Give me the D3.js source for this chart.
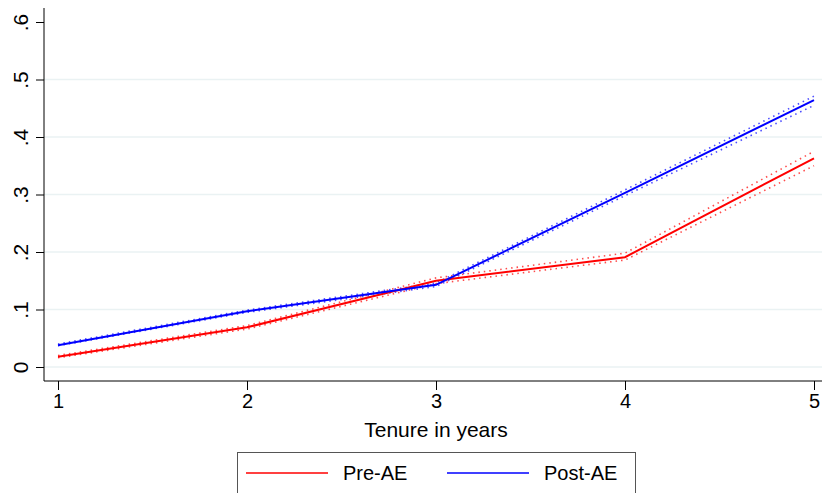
<!DOCTYPE html>
<html>
<head>
<meta charset="utf-8">
<script src="https://cdn.jsdelivr.net/npm/d3@7"></script>
<style>
    body { margin: 0; background: #fff; }
    text { font-family: "Liberation Sans", Arial, sans-serif; fill: #000; }
</style>
</head>
<body>
<div id="chart"></div>
<script>
// tenure values and estimates
const tenure = [1, 2, 3, 4, 5];
const yTicks = [0, 0.1, 0.2, 0.3, 0.4, 0.5, 0.6];
const yTickLabels = ["0", ".1", ".2", ".3", ".4", ".5", ".6"];

const preAE = [0.018, 0.069, 0.150, 0.191, 0.363];
const preLow = [0.016, 0.066, 0.145, 0.186, 0.350];
const preHigh = [0.020, 0.072, 0.155, 0.198, 0.375];

const postAE = [0.038, 0.097, 0.143, 0.303, 0.464];
const postLow = [0.037, 0.095, 0.140, 0.298, 0.455];
const postHigh = [0.040, 0.099, 0.146, 0.308, 0.471];

const seriesNames = ["Pre-AE", "Post-AE"];
const seriesColors = ["#ff0000", "#0000ff"];

const width = 822, height = 493;

const svg = d3.select("#chart")
    .append("svg")
    .attr("width", width)
    .attr("height", height);

const x = d3.scaleLinear().domain([1, 5]).range([58, 814]);
const y = d3.scaleLinear().domain([0, 0.6]).range([367, 22]);

const plotLeft = 44, plotRight = 822, plotTop = 8, plotBottom = 381;

// gridlines
svg.append("g")
    .selectAll("line")
    .data(yTicks.filter(d => d < 0.6))
    .enter().append("line")
    .attr("x1", plotLeft)
    .attr("x2", plotRight)
    .attr("y1", d => y(d))
    .attr("y2", d => y(d))
    .attr("stroke", "#eaf2f3")
    .attr("stroke-width", 1.3);

// y axis
const yAxis = svg.append("g")
    .attr("transform", `translate(${plotLeft},0)`)
    .call(d3.axisLeft(y).tickValues(yTicks).tickFormat((d, i) => yTickLabels[i]).tickSize(8).tickPadding(0));
yAxis.select(".domain").attr("d", `M0,${plotTop}V${plotBottom}`).attr("stroke", "#000");
yAxis.selectAll(".tick line").attr("stroke", "#000");
yAxis.selectAll(".tick text")
    .attr("font-size", 21)
    .attr("x", 0)
    .attr("dy", 0)
    .attr("text-anchor", "middle")
    .attr("transform", "translate(-16,0) rotate(-90)")
    .attr("font-family", "Liberation Sans, Arial, sans-serif");

// x axis
const xAxis = svg.append("g")
    .attr("transform", `translate(0,${plotBottom})`)
    .call(d3.axisBottom(x).tickValues(tenure).tickFormat(d3.format("d")).tickSize(9).tickPadding(4));
xAxis.select(".domain").attr("d", `M${plotLeft},0H${plotRight}`).attr("stroke", "#000");
xAxis.selectAll(".tick line").attr("stroke", "#000");
xAxis.selectAll(".tick text")
    .attr("font-size", 20)
    .attr("font-family", "Liberation Sans, Arial, sans-serif");

svg.append("text")
    .attr("x", (x(1) + x(5)) / 2)
    .attr("y", 437)
    .attr("text-anchor", "middle")
    .attr("font-size", 21)
    .text("Tenure in years");

const line = d3.line().x((d, i) => x(tenure[i])).y(d => y(d));

// confidence bands as dotted lines
const ciLines = [
    { vals: preLow, color: seriesColors[0] },
    { vals: preHigh, color: seriesColors[0] },
    { vals: postLow, color: seriesColors[1] },
    { vals: postHigh, color: seriesColors[1] }
];
svg.selectAll(".ci")
    .data(ciLines)
    .enter().append("path")
    .attr("class", "ci")
    .attr("d", d => line(d.vals))
    .attr("fill", "none")
    .attr("stroke", d => d.color)
    .attr("stroke-opacity", 0.7)
    .attr("stroke-width", 1.6)
    .attr("stroke-dasharray", "1.5,4");

// main lines
[preAE, postAE].forEach((vals, i) => {
    svg.append("path")
        .datum(vals)
        .attr("d", line)
        .attr("fill", "none")
        .attr("stroke", seriesColors[i])
        .attr("stroke-width", 2);
});

// legend
const legend = svg.append("g");
legend.append("rect")
    .attr("x", 237.5)
    .attr("y", 452.5)
    .attr("width", 398)
    .attr("height", 60)
    .attr("fill", "#fff")
    .attr("stroke", "#555")
    .attr("stroke-width", 1);

const legendX = [246, 447];
seriesNames.forEach((name, i) => {
    legend.append("line")
        .attr("x1", legendX[i])
        .attr("x2", legendX[i] + 82)
        .attr("y1", 473)
        .attr("y2", 473)
        .attr("stroke", seriesColors[i])
        .attr("stroke-width", 1.5);
    legend.append("text")
        .attr("x", legendX[i] + 97)
        .attr("y", 480)
        .attr("font-size", 20)
        .text(name);
});
</script>
</body>
</html>
